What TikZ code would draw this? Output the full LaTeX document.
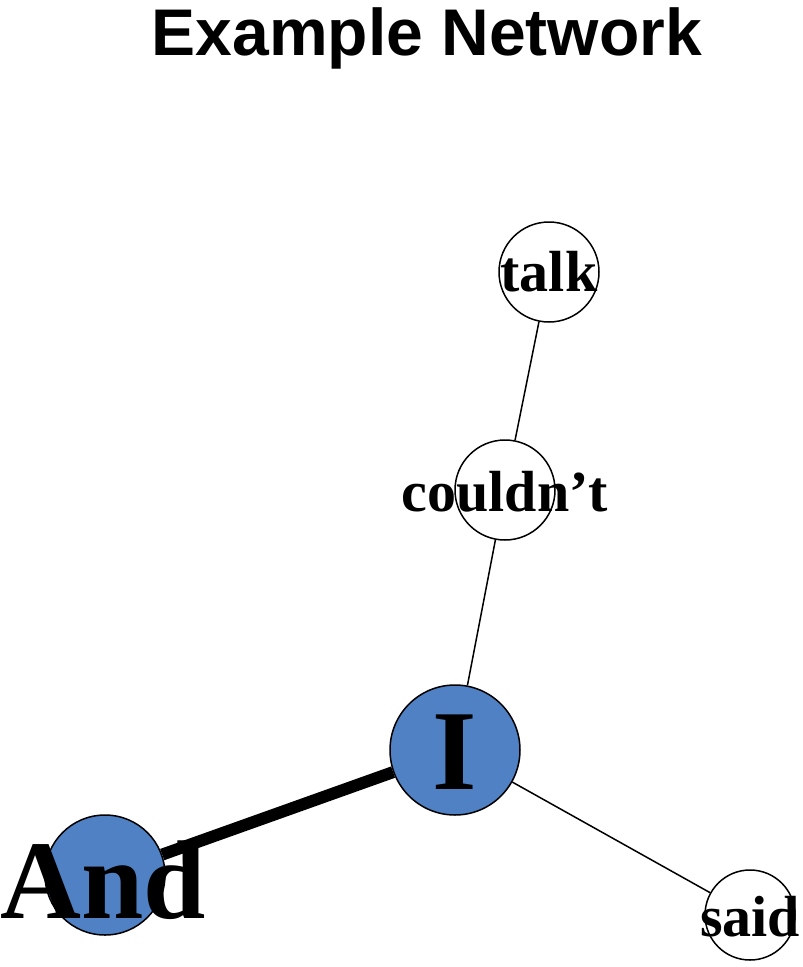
\documentclass[tikz,border=0pt]{standalone}
\usepackage{fontspec}
\setmainfont{Liberation Serif}
\newfontfamily\titlefont{Liberation Sans}
\definecolor{nodeblue}{HTML}{4F81C4}
\begin{document}
\begin{tikzpicture}[x=1pt,y=-1pt,
  vnode/.style={circle,draw=black,line width=1.5pt,inner sep=0pt,minimum size=#1},
  lbl/.style={font=\bfseries\fontsize{#1}{#1}\selectfont},
  edge/.style={line width=1.5pt}]
\useasboundingbox (0,0) rectangle (803,967);
\node[font=\titlefont\bfseries\fontsize{66}{66}\selectfont] (title) at (427,38) {Example Network};
\node[vnode=100pt,fill=white] (talk) at (549,272) {};
\node[vnode=100pt,fill=white] (could) at (505,490) {};
\node[vnode=130pt,fill=nodeblue] (I) at (455,750) {};
\node[vnode=120pt,fill=nodeblue] (And) at (105,875) {};
\node[vnode=90pt,fill=white] (said) at (750,915) {};
\draw[edge] (talk) -- (could);
\draw[edge] (could) -- (I);
\draw[line width=12pt] (I) -- (And);
\draw[edge] (I) -- (said);
\node[lbl=58] at (549,272) {talk};
\node[lbl=58] at (505,492) {couldn't};
\node[lbl=114] at (455,752) {I};
\node[lbl=112] at (103,880) {And};
\node[lbl=58] at (750,917) {said};
\end{tikzpicture}
\end{document}
